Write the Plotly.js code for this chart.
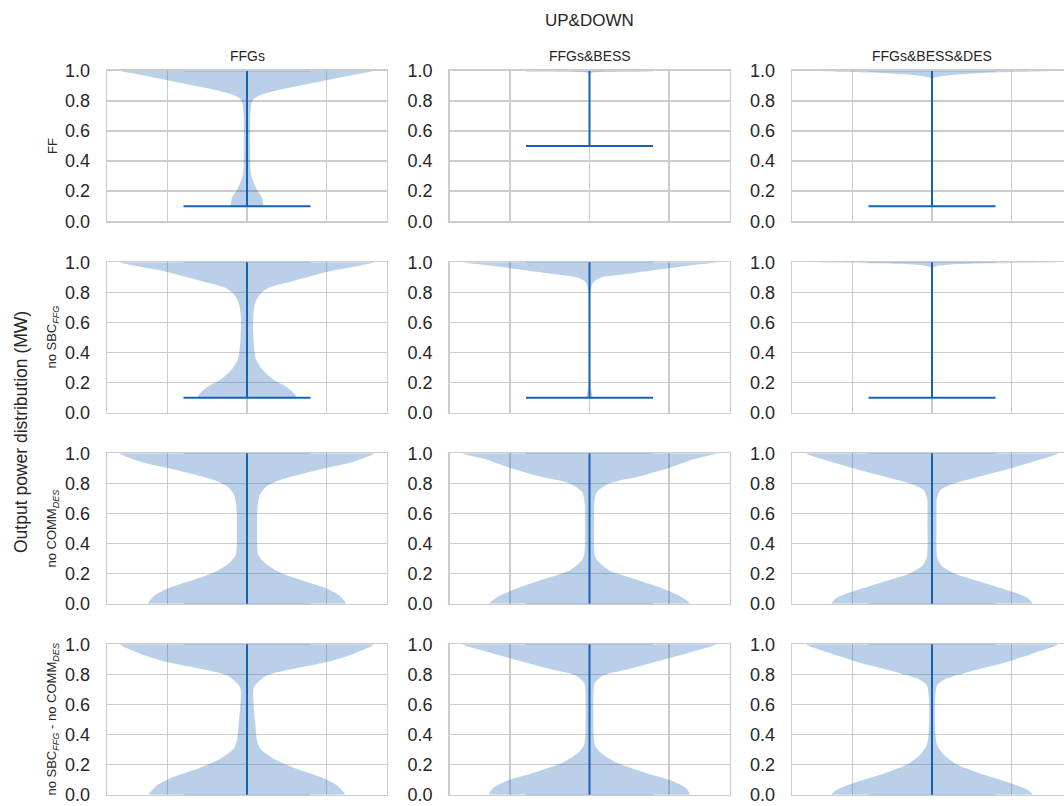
<!DOCTYPE html>
<html><head><meta charset="utf-8">
<script src="https://cdn.plot.ly/plotly-3.0.1.min.js"></script>
<style>html,body{margin:0;padding:0;overflow:hidden;background:#fff}#chart{width:1080px;height:806px}</style>
</head><body><div id="chart"></div>
<script>
// ---------- data ----------
const columnTitles = ['FFGs', 'FFGs&BESS', 'FFGs&BESS&DES'];
const rowTitles = ['FF', 'no SBC<sub><i>FFG</i></sub>', 'no COMM<sub><i>DES</i></sub>',
                   'no SBC<sub><i>FFG</i></sub> - no COMM<sub><i>DES</i></sub>'];
const mainTitle = 'UP&DOWN';
const yAxisTitle = 'Output power distribution (MW)';
const yTicks = [0, 0.2, 0.4, 0.6, 0.8, 1.0];
const yTickLabels = ['0.0', '0.2', '0.4', '0.6', '0.8', '1.0'];

// violin profiles: output level (MW) and relative half-width of the density
const v11_y = [0.10,0.13,0.16,0.20,0.25,0.30,0.35,0.45,0.60,0.70,0.75,0.78,0.81,0.84,0.87,0.90,0.93,0.96,0.98,1.00];
const v11_w = [0.13,0.125,0.115,0.085,0.055,0.035,0.027,0.025,0.025,0.026,0.03,0.035,0.05,0.11,0.24,0.41,0.59,0.76,0.88,1.00];
const v12_y = [0.50,0.90,0.97,0.985,0.993,1.00];
const v12_w = [0.002,0.002,0.004,0.015,0.08,1.00];
const v13_y = [0.10,0.50,0.90,0.95,0.955,0.965,0.975,0.985,0.993,1.00];
const v13_w = [0.003,0.003,0.004,0.01,0.02,0.08,0.2,0.4,0.7,1.00];

const v21_y = [0.10,0.12,0.17,0.22,0.29,0.35,0.42,0.51,0.60,0.67,0.735,0.79,0.834,0.878,0.934,0.97,1.00];
const v21_w = [0.39,0.38,0.315,0.21,0.118,0.073,0.058,0.05,0.047,0.052,0.066,0.105,0.18,0.37,0.62,0.84,1.00];
const v22_y = [0.10,0.13,0.17,0.25,0.50,0.80,0.86,0.88,0.90,0.927,0.96,0.98,1.00];
const v22_w = [0.025,0.02,0.01,0.006,0.006,0.008,0.025,0.05,0.1,0.336,0.62,0.8,1.00];
const v23_y = [0.10,0.50,0.95,0.965,0.975,0.985,0.993,1.00];
const v23_w = [0.003,0.003,0.004,0.01,0.04,0.15,0.45,1.00];

const v31_y = [0,0.011,0.056,0.10,0.133,0.178,0.222,0.267,0.322,0.40,0.50,0.60,0.656,0.722,0.778,0.816,0.86,0.904,0.944,1.00];
const v31_w = [0.78,0.774,0.726,0.63,0.516,0.355,0.226,0.145,0.09,0.08,0.08,0.08,0.085,0.1,0.15,0.24,0.42,0.63,0.84,1.00];
const v32_y = [0,0.011,0.056,0.111,0.167,0.222,0.29,0.322,0.40,0.50,0.60,0.667,0.744,0.80,0.844,0.904,0.956,1.00];
const v32_w = [0.79,0.78,0.70,0.545,0.35,0.156,0.06,0.042,0.035,0.035,0.035,0.037,0.06,0.156,0.38,0.63,0.80,1.00];
const v33_y = [0,0.006,0.04,0.084,0.139,0.194,0.25,0.305,0.37,0.50,0.65,0.69,0.757,0.80,0.841,0.90,0.945,1.00];
const v33_w = [0.79,0.79,0.75,0.62,0.41,0.2,0.08,0.042,0.035,0.035,0.035,0.036,0.068,0.173,0.357,0.62,0.80,0.99];

const v41_y = [0,0.007,0.062,0.118,0.173,0.24,0.306,0.361,0.494,0.627,0.716,0.794,0.838,0.882,0.938,1.00];
const v41_w = [0.77,0.77,0.71,0.58,0.39,0.21,0.105,0.079,0.063,0.05,0.055,0.157,0.37,0.63,0.84,1.00];
const v42_y = [0,0.007,0.044,0.096,0.144,0.211,0.278,0.333,0.40,0.55,0.70,0.744,0.793,0.838,0.904,0.949,1.00];
const v42_w = [0.79,0.79,0.76,0.64,0.45,0.22,0.09,0.042,0.032,0.03,0.032,0.042,0.107,0.32,0.61,0.80,1.00];
const v43_y = [0,0.004,0.033,0.077,0.133,0.2,0.265,0.33,0.376,0.50,0.64,0.73,0.774,0.82,0.883,0.94,1.00];
const v43_w = [0.79,0.79,0.75,0.62,0.41,0.2,0.095,0.042,0.03,0.022,0.024,0.042,0.12,0.3,0.59,0.8,0.99];

const statMin = [0.1, 0.5, 0.1,  0.1, 0.1, 0.1,  0, 0, 0,  0, 0, 0];
const statMax = [1.0, 1.0, 1.0,  1.0, 1.0, 1.0,  1, 1, 1,  1, 1, 1];

const profiles = [
  [v11_y, v11_w], [v12_y, v12_w], [v13_y, v13_w],
  [v21_y, v21_w], [v22_y, v22_w], [v23_y, v23_w],
  [v31_y, v31_w], [v32_y, v32_w], [v33_y, v33_w],
  [v41_y, v41_w], [v42_y, v42_w], [v43_y, v43_w]
];

// ---------- layout geometry (pixels) ----------
const W = 1080, H = 806;
const colLeft = [107, 449.5, 792], colW = 280;
const rowTop = [70.7, 262.3, 453.3, 644.3], rowH = 150.5;
const lineColor = 'rgb(22,98,182)';
const edgeCapColor = 'rgba(22,98,182,0.3)';
const fillColor = 'rgba(25,100,180,0.3)';
const gridColor = '#cccccc';
const textColor = '#262626';
const fontFam = 'Liberation Sans, Arial, sans-serif';
const Y_LO = 0, Y_HI = 1;

const traces = [];
const layout = {
  width: W, height: H, margin: {l: 0, r: 0, t: 0, b: 0},
  paper_bgcolor: '#fff', plot_bgcolor: '#fff', showlegend: false,
  font: {family: fontFam, color: textColor},
  annotations: []
};

function capStyle(v) {
  // caps lying on the frame are mostly hidden behind the spine, as in the original
  return (v <= Y_LO || v >= Y_HI) ? {color: edgeCapColor, width: 1.4} : {color: lineColor, width: 2};
}

for (let r = 0; r < 4; r++) {
  for (let c = 0; c < 3; c++) {
    const k = r * 3 + c;
    const xa = k === 0 ? 'x' : 'x' + (k + 1);
    const ya = k === 0 ? 'y' : 'y' + (k + 1);
    const [py, pw] = profiles[k];
    const xs = pw.map(v => -v).concat(pw.slice().reverse());
    const ys = py.concat(py.slice().reverse());
    traces.push({type: 'scatter', mode: 'lines', x: xs, y: ys, xaxis: xa, yaxis: ya,
      fill: 'toself', fillcolor: fillColor, line: {width: 0, shape: 'spline', smoothing: 0.7},
      hoverinfo: 'skip'});
    traces.push({type: 'scatter', mode: 'lines', x: [-0.5, 0.5], y: [statMin[k], statMin[k]],
      xaxis: xa, yaxis: ya, line: capStyle(statMin[k]), hoverinfo: 'skip'});
    traces.push({type: 'scatter', mode: 'lines', x: [-0.5, 0.5], y: [statMax[k], statMax[k]],
      xaxis: xa, yaxis: ya, line: capStyle(statMax[k]), hoverinfo: 'skip'});
    traces.push({type: 'scatter', mode: 'lines', x: [0, 0], y: [statMin[k], statMax[k]],
      xaxis: xa, yaxis: ya, line: {color: lineColor, width: 2}, hoverinfo: 'skip'});

    const xKey = k === 0 ? 'xaxis' : 'xaxis' + (k + 1);
    const yKey = k === 0 ? 'yaxis' : 'yaxis' + (k + 1);
    layout[xKey] = {
      domain: [colLeft[c] / W, (colLeft[c] + colW) / W], anchor: ya,
      range: [-1.102, 1.102], tickvals: [-0.626, 0, 0.626], showticklabels: false, ticks: '',
      showgrid: true, gridcolor: gridColor, gridwidth: 1.4, zeroline: false,
      showline: true, linecolor: gridColor, linewidth: 1.4, mirror: true, fixedrange: true
    };
    layout[yKey] = {
      domain: [(H - rowTop[r] - rowH) / H, (H - rowTop[r]) / H], anchor: xa,
      range: [Y_LO, Y_HI], tickvals: yTicks, ticktext: yTickLabels, ticks: '',
      ticklabelstandoff: 12,
      tickfont: {size: 18, color: textColor, family: fontFam},
      showgrid: true, gridcolor: gridColor, gridwidth: 1.4, zeroline: false,
      showline: true, linecolor: gridColor, linewidth: 1.4, mirror: true, fixedrange: true
    };
  }
}

// column titles
columnTitles.forEach((t, c) => {
  layout.annotations.push({text: t, xref: 'paper', yref: 'paper',
    x: (colLeft[c] + colW / 2) / W, y: (H - 56) / H, xanchor: 'center', yanchor: 'middle',
    showarrow: false, font: {size: 14, color: textColor, family: fontFam}});
});
// row titles
rowTitles.forEach((t, r) => {
  layout.annotations.push({text: t, xref: 'paper', yref: 'paper', textangle: -90,
    x: 53 / W, y: (H - rowTop[r] - rowH / 2) / H, xanchor: 'center', yanchor: 'middle',
    showarrow: false, font: {size: 13, color: textColor, family: fontFam}});
});
// main title
layout.annotations.push({text: mainTitle, xref: 'paper', yref: 'paper',
  x: 589 / W, y: (H - 20) / H, xanchor: 'center', yanchor: 'middle', showarrow: false,
  font: {size: 17, color: textColor, family: fontFam}});
// common y title
layout.annotations.push({text: yAxisTitle, xref: 'paper', yref: 'paper', textangle: -90,
  x: 21 / W, y: (H - 432) / H, xanchor: 'center', yanchor: 'middle', showarrow: false,
  font: {size: 17.5, color: textColor, family: fontFam}});

Plotly.newPlot('chart', traces, layout, {staticPlot: true, displayModeBar: false});
</script>
</body></html>
